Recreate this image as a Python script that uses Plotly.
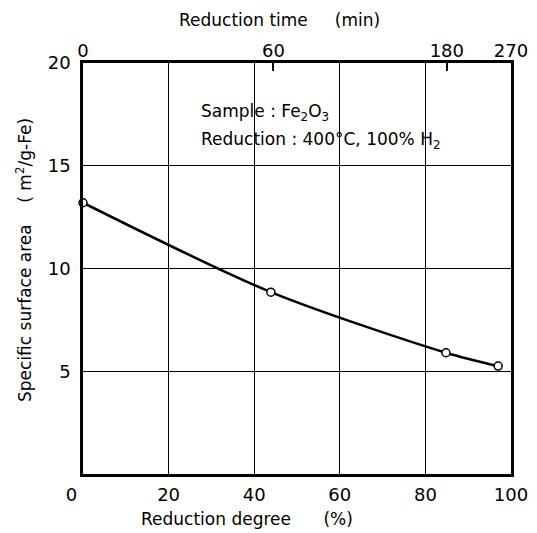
import plotly.graph_objects as go

# Data
reduction_degree = [0.0, 43.9, 84.8, 97.0]
surface_area = [13.2, 8.85, 5.9, 5.25]
time_tick_labels = ["0", "60", "180", "270"]
time_tick_degree = [0, 44.5, 85, 100]
x_ticks = [0, 20, 40, 60, 80, 100]
x_tick_labels = ["0\u00a0\u00a0\u00a0\u00a0", "20", "40", "60", "80", "100"]
y_ticks = [5, 10, 15, 20]

FONT = "DejaVu Sans, sans-serif"
SP = "&nbsp;"
L, R, T, B = 83, 26, 63, 59
W, H = 537, 533
PW, PH = W - L - R, H - T - B


def px(xp):
    return (xp - L) / PW


def py(yp):
    return (H - B - yp) / PH


fig = go.Figure()
fig.add_trace(go.Scatter(
    x=reduction_degree, y=surface_area, mode="lines+markers",
    line=dict(color="black", width=2.5, shape="spline", smoothing=0.8),
    marker=dict(symbol="circle", size=8, color="white",
                line=dict(color="black", width=1.5)),
    showlegend=False, cliponaxis=False,
))
# invisible trace on top axis
fig.add_trace(go.Scatter(x=[0, 100], y=[0, 0], xaxis="x2", mode="none",
                         showlegend=False, hoverinfo="skip"))

fig.update_layout(
    width=W, height=H,
    margin=dict(l=L, r=R, t=T, b=B, autoexpand=False),
    plot_bgcolor="white", paper_bgcolor="white",
    font=dict(family=FONT, size=17, color="black"),
    xaxis=dict(
        range=[0, 100], tickvals=x_ticks, ticktext=x_tick_labels, ticks="", showgrid=True,
        gridcolor="black", gridwidth=1.4, zeroline=False, automargin=False,
        showline=True, linecolor="black", linewidth=2.5, mirror=True,
        tickfont=dict(size=18), ticklabelstandoff=3,
    ),
    xaxis2=dict(
        range=[0, 100], overlaying="x", side="top", automargin=False,
        tickvals=time_tick_degree, ticktext=time_tick_labels,
        ticks="inside", ticklen=8, tickwidth=1.5, tickcolor="black",
        showgrid=False, zeroline=False, showline=False,
        tickfont=dict(size=18), ticklabelstandoff=1,
    ),
    yaxis=dict(
        range=[0, 20], tickvals=y_ticks, ticks="", showgrid=True,
        gridcolor="black", gridwidth=1.4, zeroline=False, automargin=False,
        showline=True, linecolor="black", linewidth=2.5, mirror=True,
        tickfont=dict(size=18), ticklabelstandoff=6,
    ),
)

# axis titles
fig.add_annotation(x=px(139), y=py(519), xref="paper", yref="paper",
                   xanchor="left", yanchor="middle", showarrow=False,
                   text="Reduction degree" + SP * 6 + "(%)", font=dict(size=17))
fig.add_annotation(x=px(177), y=py(20), xref="paper", yref="paper",
                   xanchor="left", yanchor="middle", showarrow=False,
                   text="Reduction time" + SP * 5 + "(min)", font=dict(size=17))
fig.add_annotation(x=px(24), y=py(260), xref="paper", yref="paper",
                   xanchor="center", yanchor="middle", showarrow=False, textangle=-90,
                   text="Specific surface area" + SP * 4 + "( m<sup>2</sup>/g-Fe)",
                   font=dict(size=17))

# inset text
fig.add_annotation(x=px(199), y=py(113), xref="paper", yref="paper", xanchor="left",
                   yanchor="middle",
                   text="Sample : Fe<sub>2</sub>O<sub>3</sub>", showarrow=False,
                   font=dict(size=17))
fig.add_annotation(x=px(199), y=py(140), xref="paper", yref="paper", xanchor="left",
                   yanchor="middle",
                   text="Reduction : 400°C, 100% H<sub>2</sub>", showarrow=False,
                   font=dict(size=17))

fig.write_html("out.html")
